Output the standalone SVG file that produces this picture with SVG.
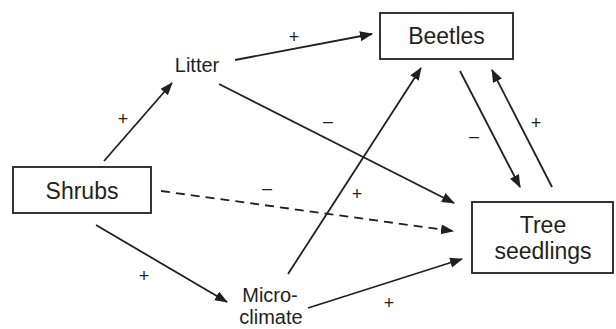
<svg xmlns="http://www.w3.org/2000/svg" width="616" height="329" viewBox="0 0 616 329">
<style>
.box{fill:#fff;stroke:#231f20;stroke-width:1.8}
.node{font-family:"Liberation Sans",Arial,sans-serif;font-size:23px;fill:#231f20;text-anchor:middle}
.var{font-family:"Liberation Sans",Arial,sans-serif;font-size:20px;fill:#231f20;text-anchor:middle}
.lbl{font-family:"Liberation Sans",Arial,sans-serif;font-size:18px;fill:#231f20;text-anchor:middle}
.edge{stroke:#231f20;stroke-width:1.8;fill:none;marker-end:url(#ah)}
.dash{stroke-dasharray:9,6}
</style>
<defs>
<marker id="ah" markerUnits="userSpaceOnUse" markerWidth="14" markerHeight="11" refX="12" refY="5" orient="auto">
<path d="M0,0 L13,5 L0,10 z" fill="#231f20"/>
</marker>
</defs>
<rect width="616" height="329" fill="#fff"/>
<g id="connectors">
<line class="edge" x1="104" y1="161" x2="172" y2="83"/>
<line class="edge" x1="235" y1="60" x2="372" y2="34"/>
<line class="edge" x1="219" y1="84" x2="454" y2="203"/>
<line class="edge dash" x1="161" y1="191" x2="453" y2="231"/>
<line class="edge" x1="96" y1="225" x2="227" y2="302"/>
<line class="edge" x1="288" y1="274" x2="421" y2="68"/>
<line class="edge" x1="308" y1="308" x2="462" y2="259"/>
<line class="edge" x1="460" y1="71" x2="520" y2="187"/>
<line class="edge" x1="552" y1="187" x2="492" y2="70"/>
<text class="lbl" x="123" y="125">+</text>
<text class="lbl" x="294" y="43">+</text>
<text class="lbl" x="328" y="127">–</text>
<text class="lbl" x="267" y="194">–</text>
<text class="lbl" x="144" y="282">+</text>
<text class="lbl" x="357" y="200">+</text>
<text class="lbl" x="389" y="309">+</text>
<text class="lbl" x="474" y="142">–</text>
<text class="lbl" x="536" y="129">+</text>
</g>
<g id="beetles">
<rect class="box" x="380" y="13" width="133" height="46"/>
<text class="node" x="446.5" y="44">Beetles</text>
</g>
<g id="shrubs">
<rect class="box" x="13" y="167" width="138" height="46"/>
<text class="node" x="82" y="199">Shrubs</text>
</g>
<g id="tree-seedlings">
<rect class="box" x="472" y="202" width="141" height="71"/>
<text class="node" x="543" y="233">Tree</text>
<text class="node" x="543" y="259">seedlings</text>
</g>
<g id="litter">
<text class="var" x="197" y="72">Litter</text>
</g>
<g id="microclimate">
<text class="var" x="270" y="302">Micro-</text>
<text class="var" x="271" y="324">climate</text>
</g>
</svg>
